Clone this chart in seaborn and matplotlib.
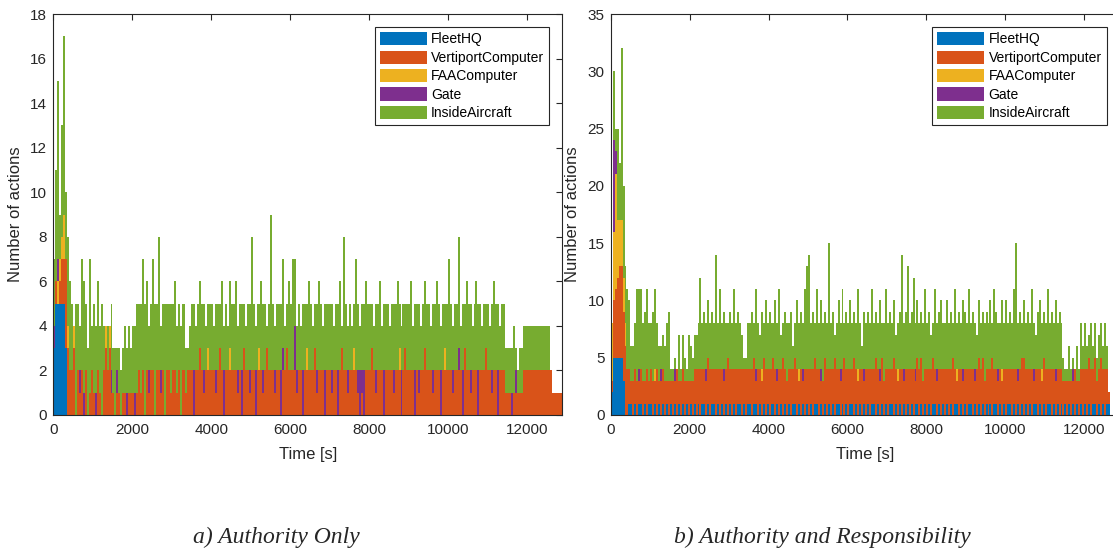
import numpy as np
import pandas as pd
import matplotlib
matplotlib.use("Agg")
import matplotlib.pyplot as plt
import seaborn as sns
from matplotlib.patches import Patch

# ---------------- data ----------------
SOURCES = ["FleetHQ", "VertiportComputer", "FAAComputer", "Gate", "InsideAircraft"]
COLORS = ["#0072BD", "#D95319", "#EDB120", "#7E2F8E", "#77AC30"]
BIN_WIDTH = 50          # seconds per bar
T_MAX = 12900
X_TICKS = [0, 2000, 4000, 6000, 8000, 10000, 12000]
Y_TICKS_A = [0, 2, 4, 6, 8, 10, 12, 14, 16, 18]
Y_TICKS_B = [0, 5, 10, 15, 20, 25, 30, 35]
CAPTIONS = ["a) Authority Only", "b) Authority and Responsibility"]

# number of actions per 50 s bin, one base-36 digit per bin (a=10, b=11, ...)
# ---- a) Authority Only
FLEET_A = (
    "3555553000", "0000000000", "0000000000", "0000000000", "0000000000",
    "0000000000", "0000000000", "0000000000", "0000000000", "0000000000",
    "0000000000", "0000000000", "0000000000", "0000000000", "0000000000",
    "0000000000", "0000000000", "0000000000", "0000000000", "0000000000",
    "0000000000", "0000000000", "0000000000", "0000000000", "0000000000",
    "00000000")
VERTI_A = (
    "0101224322", "3021202012", "1021023231", "1011011011", "1012120212",
    "2022120221", "2212022122", "2022321222", "2212320222", "2221203221",
    "2202221232", "2212202232", "2221220222", "2231222022", "2122023221",
    "2222101022", "2321222022", "2212220232", "2220212232", "2212220222",
    "2212222032", "2122202223", "2212202221", "1101111122", "2222222222",
    "22211111")
FAA_A = (
    "0011120100", "1000000000", "0000001010", "0000000000", "0000000000",
    "0000000000", "0000000000", "0000000010", "0000000001", "0000000000",
    "0000100000", "0000000000", "0000000010", "0000000000", "0000000000",
    "0010000000", "0000000000", "0000010000", "0000000000", "0000000010",
    "0000000000", "0000000000", "0000000000", "0000000000", "0000000000",
    "00000000")
GATE_A = (
    "1010000000", "0001010000", "0100000001", "0010000100", "0100000010",
    "0000100000", "0000000000", "0200001000", "0010002000", "0001020001",
    "0020001000", "0010021000", "0021002000", "0001000200", "0100200001",
    "0000121200", "0001000200", "0010002000", "0002010000", "0010002000",
    "0010010200", "0100020000", "0010020000", "0010100000", "0000000000",
    "00000000")
INSIDE_A = (
    "3582583443", "0532553362", "4343520203", "2312223232", "3343455423",
    "5536235334", "3433433212", "3323333223", "3233242323", "3342332233",
    "6323243313", "7323334224", "3532323324", "3223432333", "3323341632",
    "3225323343", "3223342333", "2333422323", "3423332333", "3233432323",
    "5323352324", "3323433232", "3234332332", "2223112222", "2222222222",
    "22000000")

# ---- b) Authority and Responsibility
FLEET_B = (
    "2555553001", "1010110101", "1010101010", "1010101010", "1010101101",
    "0110101010", "1010110101", "1011010101", "0110101010", "1011010101",
    "0101101010", "1010110101", "0110101010", "1011010101", "0110101010",
    "1010110101", "0101101010", "1010110101", "0110101010", "1010110101",
    "0110101010", "1010110101", "0110101010", "1010101010", "1010110101",
    "01100000")
VERTI_B = (
    "1567886643", "2333233242", "3324233323", "2324233323", "2334343334",
    "4334343335", "3434334343", "3442433443", "4344243533", "3434424243",
    "4344342344", "3435333353", "4335333424", "3433533433", "4335333424",
    "3434244433", "4344333434", "3435324333", "4334244443", "3435333333",
    "4334342445", "3434234334", "4334333433", "2323242334", "3444343353",
    "43100000")
FAA_B = (
    "56a5443200", "0000000000", "0010000000", "0000000000", "0000000000",
    "0000000000", "0000000000", "0000001000", "0000000000", "0000010000",
    "0000000000", "0000000000", "0000010000", "0000000000", "0000010000",
    "0000000000", "0000000000", "0000010000", "0000000000", "0000000010",
    "0000000000", "0000000010", "0000000000", "0000000000", "0000000000",
    "00000000")
GATE_B = (
    "0820000000", "0000100000", "0000010000", "0010000000", "0000000010",
    "0000000100", "0000000000", "0001000000", "0000100000", "0000000100",
    "0000001000", "0000001000", "0000000010", "0000001000", "0000000010",
    "0000100000", "0000010000", "0000000010", "0000100000", "0000001000",
    "0000001000", "0000100000", "0000010000", "0000100000", "0000000000",
    "00000000")
INSIDE_B = (
    "06285f8576", "3348775675", "4674323356", "1110413214", "3233484545",
    "454a474543", "5474543114", "4537435364", "5436473355", "4523645479",
    "a453746544", "b452464735", "4644474254", "5474446357", "4545345a45",
    "9458454457", "4533745644", "6453745465", "4745435445", "5463754464",
    "64547b4535", "4547435644", "4745464542", "1131103142", "4224232332",
    "42000000")

PANEL_A = [FLEET_A, VERTI_A, FAA_A, GATE_A, INSIDE_A]
PANEL_B = [FLEET_B, VERTI_B, FAA_B, GATE_B, INSIDE_B]


def decode(chunks):
    return [int(c, 36) for c in "".join(chunks)]


centers = np.arange(0, T_MAX, BIN_WIDTH) + BIN_WIDTH / 2


def panel_frame(series):
    rows = []
    for name, chunks in zip(SOURCES, series):
        vals = decode(chunks)
        for t, v in zip(centers, vals):
            rows.append((float(t), float(v), name))
    return pd.DataFrame(rows, columns=["time", "count", "source"])


# ---------------- style ----------------
sns.set_theme(style="white")
plt.rcParams["font.family"] = ["Liberation Sans", "DejaVu Sans"]
AX_COLOR = "#262626"

W, H = 1113, 552
fig = plt.figure(figsize=(W / 100, H / 100), dpi=100)
fig.patch.set_facecolor("white")

ax_w = 509 / W
ax_h = 401 / H
ax_bottom = (H - 415) / H
axes = [
    fig.add_axes([53.3 / W, ax_bottom, ax_w, ax_h]),
    fig.add_axes([610.7 / W, ax_bottom, ax_w, ax_h]),
]

palette = dict(zip(SOURCES, COLORS))
panels = [(PANEL_A, Y_TICKS_A), (PANEL_B, Y_TICKS_B)]

for ax, (series, yticks) in zip(axes, panels):
    df = panel_frame(series)
    sns.histplot(
        data=df, x="time", weights="count", hue="source",
        hue_order=SOURCES[::-1], palette=palette,
        multiple="stack", binwidth=BIN_WIDTH, binrange=(0, T_MAX),
        element="bars", linewidth=0, alpha=1, legend=False, ax=ax,
    )
    ax.set_xlim(0, T_MAX)
    ax.set_ylim(yticks[0], yticks[-1])
    ax.set_xticks(X_TICKS)
    ax.set_yticks(yticks)
    ax.set_xticklabels([str(v) for v in X_TICKS])
    ax.set_yticklabels([str(v) for v in yticks])
    ax.tick_params(axis="both", which="both", direction="in", top=True, right=True,
                   length=4, width=0.8, color=AX_COLOR, labelcolor=AX_COLOR,
                   labelsize=11)
    ax.tick_params(axis="x", pad=6)
    ax.tick_params(axis="y", pad=4.5)
    for sp in ax.spines.values():
        sp.set_visible(True)
        sp.set_color(AX_COLOR)
        sp.set_linewidth(0.8)
    ax.set_xlabel("Time [s]", fontsize=12, color=AX_COLOR)
    ax.set_ylabel("Number of actions", fontsize=12, color=AX_COLOR)
    ax.xaxis.set_label_coords(0.5, -0.081)
    ax.yaxis.set_label_coords(-0.060, 0.5)
    ax.set_facecolor("white")
    ax.grid(False)

    handles = [Patch(facecolor=c, edgecolor="none", label=s) for s, c in zip(SOURCES, COLORS)]
    leg = ax.legend(handles=handles, loc="upper right", fontsize=10, frameon=True,
                    fancybox=False, framealpha=1, edgecolor=AX_COLOR,
                    handlelength=3.4, handleheight=1.08, handletextpad=0.3,
                    labelspacing=0.3, borderpad=0.35, borderaxespad=0.95)
    leg.get_frame().set_linewidth(0.8)
    for txt in leg.get_texts():
        txt.set_color("black")

# captions under the panels
fig.text(276 / W, 1 - 537 / H, CAPTIONS[0], ha="center", va="center",
         family=["Liberation Serif", "DejaVu Serif"], style="italic", fontsize=17)
fig.text(822 / W, 1 - 537 / H, CAPTIONS[1], ha="center", va="center",
         family=["Liberation Serif", "DejaVu Serif"], style="italic", fontsize=17)

fig.savefig("out.png", dpi=100, facecolor="white")
